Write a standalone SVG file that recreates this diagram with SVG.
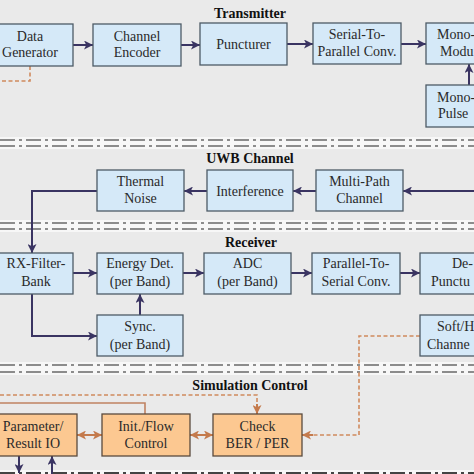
<svg xmlns="http://www.w3.org/2000/svg" width="474" height="474" viewBox="0 0 474 474">
<defs>
<marker id="ah" viewBox="0 0 10 10" refX="10" refY="5" markerWidth="9" markerHeight="9" markerUnits="userSpaceOnUse" orient="auto">
<path d="M0,0 L10,5 L0,10 L2.5,5 Z" fill="#3a3462"/>
</marker>
<marker id="oh" viewBox="0 0 10 10" refX="10" refY="5" markerWidth="9" markerHeight="9" markerUnits="userSpaceOnUse" orient="auto-start-reverse">
<path d="M0,0 L10,5 L0,10 L2.5,5 Z" fill="#c47a4c"/>
</marker>
</defs>
<style>
.b{fill:#d5e9f8;stroke:#4d5b66;stroke-width:1.3}
.o{fill:#fcc891;stroke:#5a4a3e;stroke-width:1.3}
.t{font-family:"Liberation Serif","Times New Roman",serif;font-size:14px;fill:#2a2a2a;text-anchor:middle}
.ts{font-family:"Liberation Serif","Times New Roman",serif;font-size:14px;fill:#2a2a2a}
.h{font-family:"Liberation Serif","Times New Roman",serif;font-size:14px;font-weight:bold;fill:#111;text-anchor:middle}
.sep{stroke:#6a6a6a;stroke-width:1.3;stroke-dasharray:15 4 3 4;fill:none}
.a{stroke:#3a3462;stroke-width:2;fill:none}
.oa{stroke:#c47a4c;stroke-width:2;fill:none}
.od{stroke:#d08a5e;stroke-width:1.6;stroke-dasharray:4 2.5;fill:none}
</style>
<rect x="0" y="0" width="474" height="474" fill="#eaeaea"/>
<g id="separators">
<rect x="0" y="137" width="474" height="12" fill="#f7f7f7"/>
<line class="sep" x1="0" y1="140" x2="474" y2="140"/>
<line class="sep" x1="0" y1="146" x2="474" y2="146"/>
<rect x="0" y="220" width="474" height="12" fill="#f7f7f7"/>
<line class="sep" x1="0" y1="223" x2="474" y2="223"/>
<line class="sep" x1="0" y1="229" x2="474" y2="229"/>
<rect x="0" y="362" width="474" height="13" fill="#f7f7f7"/>
<line class="sep" x1="0" y1="365" x2="474" y2="365"/>
<line class="sep" x1="0" y1="372" x2="474" y2="372"/>
<rect x="0" y="470" width="474" height="4" fill="#f7f7f7"/>
<line class="sep" x1="0" y1="473" x2="474" y2="473" style="stroke:#444;stroke-width:2.2"/>
</g>
<g id="titles">
<text class="h" x="250" y="18">Transmitter</text>
<text class="h" x="250" y="163">UWB Channel</text>
<text class="h" x="251" y="247">Receiver</text>
<text class="h" x="250" y="390">Simulation Control</text>
</g>
<g id="connectors">
<line class="a" x1="73" y1="45" x2="93" y2="45" marker-end="url(#ah)"/>
<line class="a" x1="181" y1="45" x2="200" y2="45" marker-end="url(#ah)"/>
<line class="a" x1="287" y1="44" x2="313" y2="44" marker-end="url(#ah)"/>
<line class="a" x1="401" y1="44" x2="426" y2="44" marker-end="url(#ah)"/>
<line class="a" x1="469" y1="85" x2="469" y2="64" marker-end="url(#ah)"/>
<line class="a" x1="474" y1="191" x2="403" y2="191" marker-end="url(#ah)"/>
<line class="a" x1="316" y1="191" x2="293" y2="191" marker-end="url(#ah)"/>
<line class="a" x1="207" y1="191" x2="184" y2="191" marker-end="url(#ah)"/>
<polyline class="a" points="97,191 32,191 32,253" marker-end="url(#ah)"/>
<line class="a" x1="73" y1="273" x2="97" y2="273" marker-end="url(#ah)"/>
<line class="a" x1="183" y1="273" x2="204" y2="273" marker-end="url(#ah)"/>
<line class="a" x1="291" y1="273" x2="312" y2="273" marker-end="url(#ah)"/>
<line class="a" x1="400" y1="273" x2="420" y2="273" marker-end="url(#ah)"/>
<polyline class="a" points="32,294 32,336 97,336" marker-end="url(#ah)"/>
<line class="a" x1="140" y1="315" x2="140" y2="294" marker-end="url(#ah)"/>
<line class="oa" x1="77" y1="435" x2="102" y2="435" marker-start="url(#oh)" marker-end="url(#oh)"/>
<line class="oa" x1="190" y1="435" x2="213" y2="435" marker-start="url(#oh)" marker-end="url(#oh)"/>
<polyline points="0,403 145,403 145,414" fill="none" stroke="#c08262" stroke-width="1.6"/>
<polyline class="od" points="0,395 257,395 257,405"/>
<line class="oa" x1="257" y1="404" x2="257" y2="414" marker-end="url(#oh)"/>
<polyline class="od" points="30,66 30,81 0,81"/>
<polyline class="od" points="420,336 359,336 359,435 312,435"/>
<line class="oa" x1="313" y1="435" x2="302" y2="435" marker-end="url(#oh)"/>
<line class="a" x1="19" y1="456" x2="19" y2="473" marker-end="url(#ah)"/>
<line class="a" x1="52" y1="474" x2="52" y2="456" marker-end="url(#ah)"/>
</g>
<g id="data-generator"><rect class="b" x="-15" y="24" width="88" height="42"/><text class="t" x="30" y="41">Data</text><text class="t" x="30" y="57">Generator</text></g>
<g id="channel-encoder"><rect class="b" x="93" y="24" width="88" height="42"/><text class="t" x="137" y="41">Channel</text><text class="t" x="137" y="57">Encoder</text></g>
<g id="puncturer"><rect class="b" x="200" y="23" width="87" height="42"/><text class="t" x="243.5" y="49">Puncturer</text></g>
<g id="serial-to-parallel"><rect class="b" x="313" y="23" width="88" height="41"/><text class="t" x="357" y="39">Serial-To-</text><text class="t" x="357" y="56">Parallel Conv.</text></g>
<g id="mono-modu"><rect class="b" x="426" y="23" width="60" height="41"/><text class="ts" x="437" y="39">Mono-</text><text class="ts" x="440" y="56">Modu</text></g>
<g id="mono-pulse"><rect class="b" x="426" y="85" width="60" height="42"/><text class="ts" x="437" y="102">Mono-</text><text class="ts" x="438" y="118">Pulse</text></g>
<g id="thermal-noise"><rect class="b" x="97" y="170" width="87" height="41"/><text class="t" x="140.5" y="186">Thermal</text><text class="t" x="140.5" y="203">Noise</text></g>
<g id="interference"><rect class="b" x="207" y="170" width="86" height="41"/><text class="t" x="250" y="195.5">Interference</text></g>
<g id="multi-path"><rect class="b" x="316" y="170" width="87" height="41"/><text class="t" x="359.5" y="186">Multi-Path</text><text class="t" x="359.5" y="203">Channel</text></g>
<g id="rx-filter-bank"><rect class="b" x="-15" y="253" width="88" height="41"/><text class="t" x="36" y="268">RX-Filter-</text><text class="t" x="36" y="286">Bank</text></g>
<g id="energy-det"><rect class="b" x="97" y="253" width="86" height="41"/><text class="t" x="140" y="268">Energy Det.</text><text class="t" x="140" y="286">(per Band)</text></g>
<g id="adc"><rect class="b" x="204" y="253" width="87" height="41"/><text class="t" x="247.5" y="268">ADC</text><text class="t" x="247.5" y="286">(per Band)</text></g>
<g id="parallel-to-serial"><rect class="b" x="312" y="253" width="88" height="41"/><text class="t" x="356" y="268">Parallel-To-</text><text class="t" x="356" y="286">Serial Conv.</text></g>
<g id="de-punctu"><rect class="b" x="420" y="253" width="66" height="41"/><text class="ts" x="452" y="268">De-</text><text class="ts" x="431" y="286">Punctu</text></g>
<g id="sync"><rect class="b" x="97" y="315" width="86" height="41"/><text class="t" x="140" y="331">Sync.</text><text class="t" x="140" y="349">(per Band)</text></g>
<g id="soft-h-channel"><rect class="b" x="420" y="315" width="66" height="41"/><text class="ts" x="437" y="331">Soft/H</text><text class="ts" x="427" y="349">Channe</text></g>
<g id="parameter-io"><rect class="o" x="-15" y="414" width="92" height="42"/><text class="t" x="33" y="431">Parameter/</text><text class="t" x="33" y="448">Result IO</text></g>
<g id="init-flow"><rect class="o" x="102" y="414" width="88" height="42"/><text class="t" x="146" y="431">Init./Flow</text><text class="t" x="146" y="448">Control</text></g>
<g id="check-ber"><rect class="o" x="213" y="414" width="89" height="42"/><text class="t" x="257.5" y="431">Check</text><text class="t" x="257.5" y="448">BER / PER</text></g>
</svg>
